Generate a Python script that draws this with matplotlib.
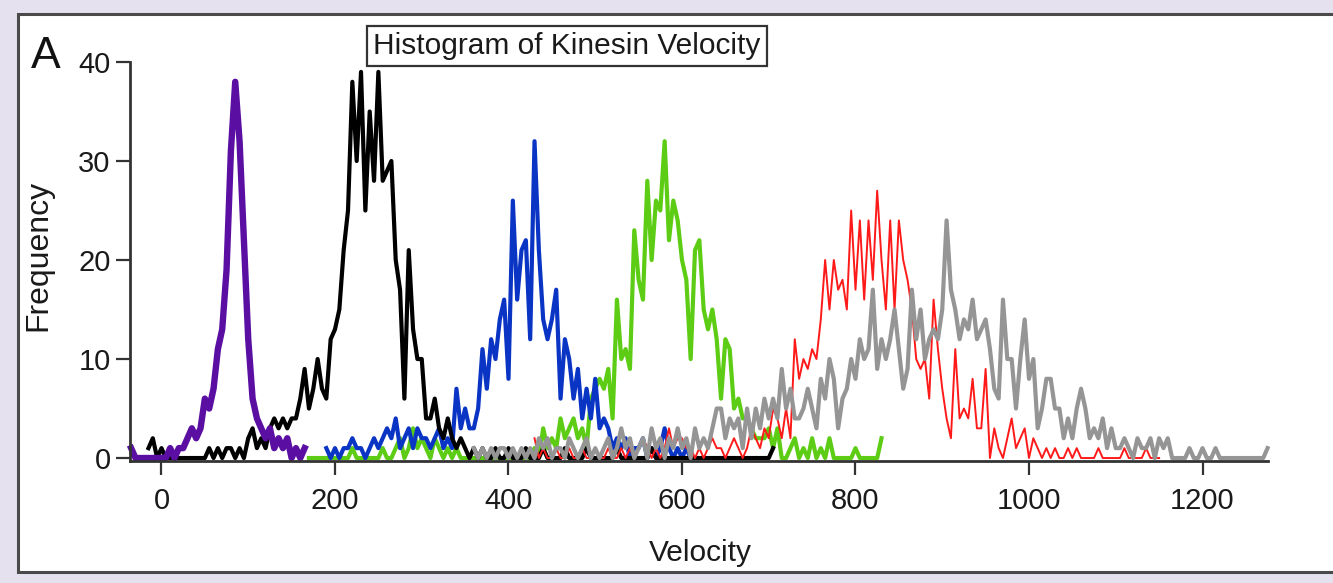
import numpy as np
import matplotlib
matplotlib.use("Agg")
import matplotlib.pyplot as plt
from matplotlib.patches import Rectangle

plt.rcParams['font.family'] = ['Liberation Sans', 'DejaVu Sans']

# histogram counts, 5 velocity units per bin; each series starts at its own velocity
bin_width = 5

purple_start = -35
purple_counts = [1, 0, 0, 0, 0, 0, 0, 0, 0, 1, 0, 1, 1, 2, 3, 2, 3, 6, 5, 7,
                 11, 13, 19, 31, 38, 32, 22, 12, 6, 4, 3, 2, 3, 1, 2, 1, 2, 0, 1, 0,
                 1]

black_start = -15
black_counts = [1, 2, 0, 1, 0, 0, 0, 0, 0, 0, 0, 0, 0, 0, 1, 0, 1, 0, 1, 1,
                0, 1, 0, 2, 3, 1, 2, 1, 3, 4, 3, 4, 3, 4, 4, 6, 9, 5, 7, 10,
                7, 6, 12, 13, 15, 21, 25, 38, 30, 39, 25, 35, 28, 39, 28, 29, 30, 20, 17, 6,
                21, 13, 10, 10, 4, 4, 6, 3, 2, 4, 2, 1, 2, 1, 0, 1, 0, 1, 0, 0,
                1, 0, 0, 1, 0, 0, 0, 1, 0, 0, 0, 1, 0, 0, 0, 0, 1, 0, 0, 0,
                0, 1, 0, 0, 0, 0, 0, 0, 1, 0, 0, 0, 0, 0, 0, 0, 1, 0, 0, 0,
                0, 0, 0, 0, 0, 0, 0, 0, 0, 0, 0, 0, 0, 0, 0, 0, 0, 0, 0, 0,
                0, 0, 0, 0, 1]

blue_start = 190
blue_counts = [1, 0, 1, 0, 1, 1, 2, 1, 1, 0, 1, 2, 1, 2, 3, 2, 4, 1, 2, 3,
               1, 3, 2, 2, 1, 2, 3, 1, 2, 1, 7, 3, 5, 3, 3, 5, 11, 7, 12, 10,
               14, 16, 8, 26, 16, 21, 22, 12, 32, 21, 14, 12, 14, 17, 6, 12, 10, 6, 9, 4,
               7, 4, 8, 3, 4, 3, 1, 2, 1, 2, 0, 1, 1, 2, 0, 1, 0, 1, 3, 1,
               0, 1, 0, 1, 0]

green_start = 170
green_counts = [0, 0, 0, 0, 0, 0, 0, 0, 0, 0, 1, 0, 0, 0, 0, 0, 0, 1, 0, 0,
                1, 2, 0, 1, 3, 1, 2, 1, 0, 2, 1, 0, 1, 0, 1, 0, 0, 0, 0, 0,
                0, 0, 0, 0, 0, 0, 0, 0, 0, 0, 0, 0, 1, 0, 3, 1, 2, 1, 4, 2,
                3, 4, 2, 3, 1, 6, 7, 8, 7, 9, 4, 16, 10, 11, 9, 23, 18, 16, 28, 20,
                26, 25, 32, 22, 26, 24, 20, 18, 10, 21, 22, 15, 13, 15, 12, 6, 12, 11, 5, 6,
                4, 4, 3, 2, 2, 2, 3, 1, 3, 0, 0, 1, 2, 0, 1, 0, 2, 0, 1, 0,
                2, 0, 0, 0, 0, 0, 1, 0, 0, 0, 0, 0, 2]

red_start = 430
red_counts = [2, 0, 1, 0, 0, 1, 0, 0, 1, 0, 0, 1, 0, 0, 1, 0, 0, 1, 0, 0,
              1, 0, 1, 0, 1, 2, 1, 0, 1, 0, 1, 3, 1, 2, 2, 1, 1, 0, 1, 0,
              1, 2, 1, 1, 0, 1, 2, 1, 0, 1, 3, 2, 1, 3, 2, 5, 4, 2, 5, 2,
              12, 8, 10, 9, 11, 10, 14, 20, 15, 20, 17, 18, 15, 25, 17, 24, 16, 24, 18, 27,
              20, 15, 24, 15, 24, 20, 18, 15, 10, 9, 10, 6, 16, 11, 7, 4, 2, 11, 4, 5,
              4, 8, 3, 3, 9, 0, 3, 1, 0, 2, 4, 1, 2, 3, 0, 2, 1, 0, 1, 0,
              1, 0, 0, 1, 0, 1, 0, 0, 0, 0, 1, 0, 0, 0, 0, 0, 1, 0, 0, 0,
              0, 1, 0, 0, 0]

gray_start = 360
gray_counts = [1, 0, 1, 0, 1, 0, 1, 1, 0, 1, 0, 1, 0, 1, 0, 2, 1, 2, 0, 1,
               1, 0, 2, 1, 0, 1, 2, 0, 1, 0, 1, 2, 0, 1, 3, 1, 2, 0, 1, 2,
               0, 3, 1, 2, 0, 2, 1, 3, 1, 2, 0, 3, 1, 2, 1, 3, 5, 5, 2, 4,
               3, 4, 1, 5, 2, 5, 3, 6, 4, 6, 4, 9, 5, 7, 4, 4, 5, 7, 5, 3,
               8, 6, 10, 8, 3, 6, 7, 10, 8, 12, 10, 11, 17, 9, 12, 10, 12, 15, 11, 7,
               9, 17, 12, 15, 10, 12, 13, 12, 15, 24, 17, 15, 12, 14, 13, 16, 12, 13, 14, 11,
               7, 6, 16, 10, 10, 5, 10, 14, 8, 10, 3, 5, 8, 8, 5, 5, 2, 4, 2, 5,
               7, 5, 2, 3, 2, 4, 1, 3, 1, 1, 2, 1, 0, 2, 1, 1, 2, 0, 2, 1,
               2, 0, 0, 0, 0, 1, 0, 0, 1, 0, 0, 1, 0, 0, 0, 0, 0, 0, 0, 0,
               0, 0, 0, 1]


def bins(start, counts):
    return start + bin_width * np.arange(len(counts))


fig = plt.figure(figsize=(13.33, 5.83), dpi=100)
fig.patch.set_facecolor('#e6e1ef')

# white panel with a dark frame, kept behind the axes
panel = Rectangle((18 / 1333, 11 / 583), 1.02, (572 - 14) / 583,
                  transform=fig.transFigure, facecolor='white',
                  edgecolor='#4a4a4a', linewidth=2.2, zorder=-10)
fig.patches.append(panel)

ax = fig.add_axes([130 / 1333, 122 / 583, 1138 / 1333, 399 / 583])
ax.set_facecolor('none')

ax.plot(bins(green_start, green_counts), green_counts, color='#5ccc14', lw=3.0, clip_on=False)
ax.plot(bins(blue_start, blue_counts), blue_counts, color='#0a34c4', lw=3.0, clip_on=False)
ax.plot(bins(black_start, black_counts), black_counts, color='#000000', lw=3.0, clip_on=False)
ax.plot(bins(purple_start, purple_counts), purple_counts, color='#5a0fa2', lw=4.6, clip_on=False)
ax.plot(bins(red_start, red_counts), red_counts, color='#ff1a1a', lw=1.4, clip_on=False)
ax.plot(bins(gray_start, gray_counts), gray_counts, color='#959595', lw=3.0, clip_on=False)

ax.set_xlim(-36.3, 1275.5)
ax.set_ylim(-0.3, 40)
ax.set_xticks([0, 200, 400, 600, 800, 1000, 1200])
ax.set_yticks([0, 10, 20, 30, 40])

for side in ('top', 'right'):
    ax.spines[side].set_visible(False)
for side in ('left', 'bottom'):
    ax.spines[side].set_linewidth(2.0)
    ax.spines[side].set_color('#333333')

ax.tick_params(axis='both', direction='out', length=10, width=1.6,
               color='#333333', labelsize=21, labelcolor='#1a1a1a')
ax.tick_params(axis='x', pad=9)
ax.tick_params(axis='y', pad=4)

fig.text(700 / 1333, 1 - 553 / 583, 'Velocity', fontsize=21.5,
         ha='center', va='center', color='#1a1a1a')
fig.text(38 / 1333, 1 - 255 / 583, 'Frequency', fontsize=23, rotation=90,
         ha='center', va='center', color='#1a1a1a')
fig.text(46 / 1333, 1 - 56 / 583, 'A', fontsize=32,
         ha='center', va='center', color='#111111')
fig.text(567 / 1333, 1 - 46 / 583, 'Histogram of Kinesin Velocity', fontsize=21.5,
         ha='center', va='center', color='#1a1a1a',
         bbox=dict(boxstyle='square,pad=0.2', facecolor='white',
                   edgecolor='#333333', linewidth=1.6))

fig.savefig('out.png', dpi=100, facecolor=fig.get_facecolor())
